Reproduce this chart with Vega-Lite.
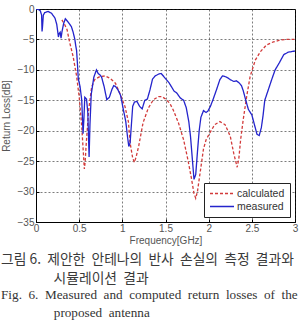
{
  "$schema": "https://vega.github.io/schema/vega-lite/v6.json",
  "width": 259,
  "height": 213,
  "autosize": {"type": "none"},
  "padding": {"left": 36, "top": 9, "right": 7, "bottom": 101},
  "background": "white",
  "title": {
    "text": ["그림 6. \u00a0제안한 \u00a0안테나의 \u00a0반사 \u00a0손실의 \u00a0측정 \u00a0결과와", "\u200b\u00a0\u00a0\u00a0\u00a0\u00a0\u00a0\u00a0\u00a0\u00a0\u00a0\u00a0\u00a0\u00a0\u00a0\u00a0\u00a0\u00a0시뮬레이션 \u00a0결과"],
    "subtitle": ["Fig. \u00a06. \u00a0Measured \u00a0and \u00a0computed \u00a0return \u00a0losses \u00a0of \u00a0the", "\u200b\u00a0\u00a0\u00a0\u00a0\u00a0\u00a0\u00a0\u00a0\u00a0\u00a0\u00a0\u00a0\u00a0\u00a0\u00a0\u00a0proposed \u00a0antenna"],
    "orient": "bottom",
    "anchor": "start",
    "frame": "bounds",
    "offset": 8,
    "font": "Noto Sans CJK KR",
    "fontSize": 13.8,
    "fontWeight": "normal",
    "color": "#3a3a3a",
    "lineHeight": 18.5,
    "subtitleFont": "Liberation Serif",
    "subtitleFontSize": 13.2,
    "subtitleColor": "#333333",
    "subtitleLineHeight": 18,
    "subtitlePadding": 4
  },
  "data": {
    "values": [
      {"f": 0.30, "rl": -1.8, "series": "calculated"},
      {"f": 0.33, "rl": -2.5, "series": "calculated"},
      {"f": 0.36, "rl": -3.4, "series": "calculated"},
      {"f": 0.39, "rl": -5.5, "series": "calculated"},
      {"f": 0.43, "rl": -7.8, "series": "calculated"},
      {"f": 0.47, "rl": -11.0, "series": "calculated"},
      {"f": 0.50, "rl": -14.4, "series": "calculated"},
      {"f": 0.53, "rl": -19.3, "series": "calculated"},
      {"f": 0.55, "rl": -24.0, "series": "calculated"},
      {"f": 0.56, "rl": -26.3, "series": "calculated"},
      {"f": 0.57, "rl": -25.0, "series": "calculated"},
      {"f": 0.58, "rl": -22.5, "series": "calculated"},
      {"f": 0.61, "rl": -16.6, "series": "calculated"},
      {"f": 0.645, "rl": -12.8, "series": "calculated"},
      {"f": 0.68, "rl": -11.6, "series": "calculated"},
      {"f": 0.74, "rl": -11.1, "series": "calculated"},
      {"f": 0.80, "rl": -11.0, "series": "calculated"},
      {"f": 0.86, "rl": -11.4, "series": "calculated"},
      {"f": 0.92, "rl": -12.2, "series": "calculated"},
      {"f": 0.97, "rl": -13.8, "series": "calculated"},
      {"f": 1.03, "rl": -16.0, "series": "calculated"},
      {"f": 1.07, "rl": -18.5, "series": "calculated"},
      {"f": 1.09, "rl": -22.0, "series": "calculated"},
      {"f": 1.12, "rl": -24.5, "series": "calculated"},
      {"f": 1.14, "rl": -25.2, "series": "calculated"},
      {"f": 1.16, "rl": -24.3, "series": "calculated"},
      {"f": 1.19, "rl": -22.5, "series": "calculated"},
      {"f": 1.24, "rl": -18.7, "series": "calculated"},
      {"f": 1.30, "rl": -16.3, "series": "calculated"},
      {"f": 1.36, "rl": -14.9, "series": "calculated"},
      {"f": 1.42, "rl": -14.4, "series": "calculated"},
      {"f": 1.46, "rl": -14.4, "series": "calculated"},
      {"f": 1.50, "rl": -14.8, "series": "calculated"},
      {"f": 1.55, "rl": -15.5, "series": "calculated"},
      {"f": 1.59, "rl": -16.6, "series": "calculated"},
      {"f": 1.65, "rl": -18.7, "series": "calculated"},
      {"f": 1.71, "rl": -21.5, "series": "calculated"},
      {"f": 1.76, "rl": -24.8, "series": "calculated"},
      {"f": 1.80, "rl": -27.8, "series": "calculated"},
      {"f": 1.83, "rl": -30.3, "series": "calculated"},
      {"f": 1.85, "rl": -31.1, "series": "calculated"},
      {"f": 1.87, "rl": -30.0, "series": "calculated"},
      {"f": 1.89, "rl": -28.0, "series": "calculated"},
      {"f": 1.92, "rl": -25.0, "series": "calculated"},
      {"f": 1.94, "rl": -23.0, "series": "calculated"},
      {"f": 1.97, "rl": -21.5, "series": "calculated"},
      {"f": 2.02, "rl": -20.2, "series": "calculated"},
      {"f": 2.07, "rl": -19.0, "series": "calculated"},
      {"f": 2.13, "rl": -18.5, "series": "calculated"},
      {"f": 2.19, "rl": -19.0, "series": "calculated"},
      {"f": 2.25, "rl": -20.9, "series": "calculated"},
      {"f": 2.29, "rl": -23.7, "series": "calculated"},
      {"f": 2.33, "rl": -26.0, "series": "calculated"},
      {"f": 2.35, "rl": -24.5, "series": "calculated"},
      {"f": 2.37, "rl": -21.5, "series": "calculated"},
      {"f": 2.40, "rl": -18.2, "series": "calculated"},
      {"f": 2.44, "rl": -14.4, "series": "calculated"},
      {"f": 2.48, "rl": -11.1, "series": "calculated"},
      {"f": 2.54, "rl": -8.4, "series": "calculated"},
      {"f": 2.60, "rl": -7.0, "series": "calculated"},
      {"f": 2.67, "rl": -5.9, "series": "calculated"},
      {"f": 2.75, "rl": -5.4, "series": "calculated"},
      {"f": 2.83, "rl": -5.1, "series": "calculated"},
      {"f": 2.90, "rl": -5.0, "series": "calculated"},
      {"f": 3.00, "rl": -5.0, "series": "calculated"},
      {"f": 0.00, "rl": 0.0, "series": "measured"},
      {"f": 0.03, "rl": -0.1, "series": "measured"},
      {"f": 0.05, "rl": -0.3, "series": "measured"},
      {"f": 0.065, "rl": -1.0, "series": "measured"},
      {"f": 0.07, "rl": -3.7, "series": "measured"},
      {"f": 0.075, "rl": -3.0, "series": "measured"},
      {"f": 0.085, "rl": -1.0, "series": "measured"},
      {"f": 0.10, "rl": -0.6, "series": "measured"},
      {"f": 0.14, "rl": -0.4, "series": "measured"},
      {"f": 0.18, "rl": -0.7, "series": "measured"},
      {"f": 0.22, "rl": -1.5, "series": "measured"},
      {"f": 0.24, "rl": -2.5, "series": "measured"},
      {"f": 0.26, "rl": -4.6, "series": "measured"},
      {"f": 0.27, "rl": -4.0, "series": "measured"},
      {"f": 0.28, "rl": -3.8, "series": "measured"},
      {"f": 0.29, "rl": -4.8, "series": "measured"},
      {"f": 0.30, "rl": -3.8, "series": "measured"},
      {"f": 0.32, "rl": -2.4, "series": "measured"},
      {"f": 0.34, "rl": -1.6, "series": "measured"},
      {"f": 0.37, "rl": -2.1, "series": "measured"},
      {"f": 0.41, "rl": -2.9, "series": "measured"},
      {"f": 0.43, "rl": -3.8, "series": "measured"},
      {"f": 0.45, "rl": -5.0, "series": "measured"},
      {"f": 0.46, "rl": -6.0, "series": "measured"},
      {"f": 0.47, "rl": -6.8, "series": "measured"},
      {"f": 0.48, "rl": -9.0, "series": "measured"},
      {"f": 0.49, "rl": -11.5, "series": "measured"},
      {"f": 0.51, "rl": -12.7, "series": "measured"},
      {"f": 0.53, "rl": -15.0, "series": "measured"},
      {"f": 0.545, "rl": -20.5, "series": "measured"},
      {"f": 0.555, "rl": -18.0, "series": "measured"},
      {"f": 0.565, "rl": -14.5, "series": "measured"},
      {"f": 0.585, "rl": -14.8, "series": "measured"},
      {"f": 0.60, "rl": -17.0, "series": "measured"},
      {"f": 0.615, "rl": -24.3, "series": "measured"},
      {"f": 0.625, "rl": -19.0, "series": "measured"},
      {"f": 0.64, "rl": -14.0, "series": "measured"},
      {"f": 0.67, "rl": -11.2, "series": "measured"},
      {"f": 0.70, "rl": -10.0, "series": "measured"},
      {"f": 0.72, "rl": -10.6, "series": "measured"},
      {"f": 0.74, "rl": -10.8, "series": "measured"},
      {"f": 0.76, "rl": -11.2, "series": "measured"},
      {"f": 0.79, "rl": -12.8, "series": "measured"},
      {"f": 0.82, "rl": -14.9, "series": "measured"},
      {"f": 0.85, "rl": -14.5, "series": "measured"},
      {"f": 0.88, "rl": -13.2, "series": "measured"},
      {"f": 0.90, "rl": -12.6, "series": "measured"},
      {"f": 0.92, "rl": -12.7, "series": "measured"},
      {"f": 0.95, "rl": -13.3, "series": "measured"},
      {"f": 0.98, "rl": -14.2, "series": "measured"},
      {"f": 1.01, "rl": -16.4, "series": "measured"},
      {"f": 1.04, "rl": -18.5, "series": "measured"},
      {"f": 1.06, "rl": -21.0, "series": "measured"},
      {"f": 1.075, "rl": -22.6, "series": "measured"},
      {"f": 1.09, "rl": -22.0, "series": "measured"},
      {"f": 1.105, "rl": -19.0, "series": "measured"},
      {"f": 1.12, "rl": -16.0, "series": "measured"},
      {"f": 1.14, "rl": -15.3, "series": "measured"},
      {"f": 1.17, "rl": -15.2, "series": "measured"},
      {"f": 1.20, "rl": -16.0, "series": "measured"},
      {"f": 1.23, "rl": -16.4, "series": "measured"},
      {"f": 1.26, "rl": -15.0, "series": "measured"},
      {"f": 1.29, "rl": -14.8, "series": "measured"},
      {"f": 1.32, "rl": -13.3, "series": "measured"},
      {"f": 1.35, "rl": -11.5, "series": "measured"},
      {"f": 1.38, "rl": -11.0, "series": "measured"},
      {"f": 1.42, "rl": -10.7, "series": "measured"},
      {"f": 1.45, "rl": -10.6, "series": "measured"},
      {"f": 1.48, "rl": -11.1, "series": "measured"},
      {"f": 1.51, "rl": -11.6, "series": "measured"},
      {"f": 1.54, "rl": -12.1, "series": "measured"},
      {"f": 1.57, "rl": -12.8, "series": "measured"},
      {"f": 1.60, "rl": -13.5, "series": "measured"},
      {"f": 1.63, "rl": -13.8, "series": "measured"},
      {"f": 1.67, "rl": -14.6, "series": "measured"},
      {"f": 1.71, "rl": -15.0, "series": "measured"},
      {"f": 1.74, "rl": -16.2, "series": "measured"},
      {"f": 1.77, "rl": -18.5, "series": "measured"},
      {"f": 1.79, "rl": -21.0, "series": "measured"},
      {"f": 1.81, "rl": -24.5, "series": "measured"},
      {"f": 1.83, "rl": -28.0, "series": "measured"},
      {"f": 1.85, "rl": -27.2, "series": "measured"},
      {"f": 1.87, "rl": -23.5, "series": "measured"},
      {"f": 1.89, "rl": -20.0, "series": "measured"},
      {"f": 1.91, "rl": -17.8, "series": "measured"},
      {"f": 1.94, "rl": -16.7, "series": "measured"},
      {"f": 1.97, "rl": -17.0, "series": "measured"},
      {"f": 1.99, "rl": -16.8, "series": "measured"},
      {"f": 2.02, "rl": -16.0, "series": "measured"},
      {"f": 2.05, "rl": -14.9, "series": "measured"},
      {"f": 2.09, "rl": -13.3, "series": "measured"},
      {"f": 2.13, "rl": -11.6, "series": "measured"},
      {"f": 2.16, "rl": -11.0, "series": "measured"},
      {"f": 2.19, "rl": -11.1, "series": "measured"},
      {"f": 2.22, "rl": -11.3, "series": "measured"},
      {"f": 2.25, "rl": -11.6, "series": "measured"},
      {"f": 2.29, "rl": -11.9, "series": "measured"},
      {"f": 2.32, "rl": -11.8, "series": "measured"},
      {"f": 2.35, "rl": -12.1, "series": "measured"},
      {"f": 2.38, "rl": -12.6, "series": "measured"},
      {"f": 2.40, "rl": -13.4, "series": "measured"},
      {"f": 2.43, "rl": -15.0, "series": "measured"},
      {"f": 2.46, "rl": -16.5, "series": "measured"},
      {"f": 2.50, "rl": -17.4, "series": "measured"},
      {"f": 2.53, "rl": -19.0, "series": "measured"},
      {"f": 2.56, "rl": -20.6, "series": "measured"},
      {"f": 2.585, "rl": -20.8, "series": "measured"},
      {"f": 2.61, "rl": -19.5, "series": "measured"},
      {"f": 2.63, "rl": -17.5, "series": "measured"},
      {"f": 2.65, "rl": -15.0, "series": "measured"},
      {"f": 2.69, "rl": -13.3, "series": "measured"},
      {"f": 2.73, "rl": -11.6, "series": "measured"},
      {"f": 2.77, "rl": -10.0, "series": "measured"},
      {"f": 2.82, "rl": -8.8, "series": "measured"},
      {"f": 2.87, "rl": -7.5, "series": "measured"},
      {"f": 2.92, "rl": -7.1, "series": "measured"},
      {"f": 2.96, "rl": -7.0, "series": "measured"},
      {"f": 3.00, "rl": -6.9, "series": "measured"}
    ]
  },
  "mark": {"type": "line", "strokeWidth": 1.3, "clip": true},
  "encoding": {
    "x": {
      "field": "f",
      "type": "quantitative",
      "scale": {"domain": [0, 3], "nice": false, "zero": false},
      "axis": {
        "title": "Frequency[GHz]",
        "values": [0, 0.5, 1, 1.5, 2, 2.5, 3],
        "labelExpr": "datum.value",
        "labelFlush": false
      }
    },
    "y": {
      "field": "rl",
      "type": "quantitative",
      "scale": {"domain": [-35, 0], "nice": false},
      "axis": {
        "title": "Return Loss[dB]",
        "values": [0, -5, -10, -15, -20, -25, -30, -35],
        "labelFlush": false,
        "titlePadding": 6
      }
    },
    "color": {
      "field": "series",
      "type": "nominal",
      "scale": {"domain": ["calculated", "measured"], "range": ["#d23a3a", "#2424cc"]},
      "legend": {
        "title": null,
        "orient": "bottom-right",
        "offset": 5,
        "padding": 5,
        "fillColor": "white",
        "strokeColor": "#222222",
        "symbolType": "stroke",
        "symbolSize": 576,
        "symbolStrokeWidth": 1.5,
        "clipHeight": 11,
        "labelFont": "Liberation Sans",
        "labelFontSize": 10.5,
        "labelColor": "#333333",
        "rowPadding": 2,
        "labelOffset": 2
      }
    },
    "strokeDash": {
      "field": "series",
      "type": "nominal",
      "scale": {"domain": ["calculated", "measured"], "range": [[3, 2], [1, 0]]},
      "legend": null
    }
  },
  "config": {
    "view": {"stroke": "#000000", "strokeWidth": 1},
    "axis": {
      "grid": true,
      "gridColor": "#222222",
      "gridDash": [2, 2],
      "gridWidth": 0.7,
      "gridOpacity": 0.85,
      "domainColor": "#000000",
      "domainWidth": 1,
      "tickColor": "#000000",
      "tickSize": -3,
      "labelPadding": 5,
      "labelFont": "Liberation Sans",
      "labelFontSize": 10,
      "labelColor": "#555555",
      "titleFont": "Liberation Sans",
      "titleFontSize": 10,
      "titleFontWeight": "normal",
      "titleColor": "#555555"
    },
    "axisX": {"titlePadding": 2, "labelPadding": 4}
  }
}
